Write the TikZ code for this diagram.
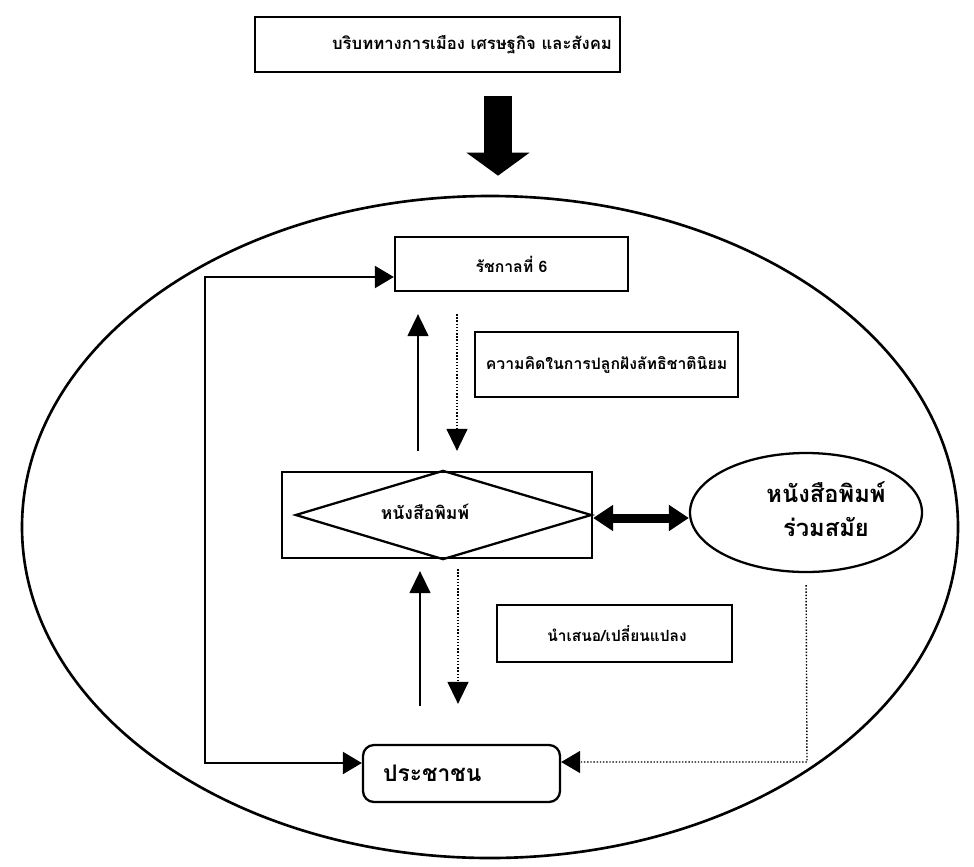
\documentclass[tikz,border=0pt]{standalone}
\usepackage{fontspec}
\newfontfamily\thaifont[Script=Thai]{Loma}
\usetikzlibrary{arrows.meta,calc,shapes.geometric}
\begin{document}
\begin{tikzpicture}[x=0.02cm,y=-0.02cm,
  font=\thaifont\bfseries,
  boxn/.style={draw,line width=1.3pt,rectangle,inner sep=0pt},
  headA/.style={-{Triangle[length=0.44cm,width=0.42cm]}},
  thinline/.style={line width=0.8pt},
  dotline/.style={line width=0.8pt,densely dotted},
]
\useasboundingbox (0,0) rectangle (974,866);
% outer ellipse
\node[draw,ellipse,line width=1.5pt,minimum width=936*0.02cm,minimum height=662*0.02cm,inner sep=0pt] (outer) at (490,527) {};
% top context box
\node[boxn,minimum width=365*0.02cm,minimum height=55*0.02cm,text width=349*0.02cm,align=right,font=\thaifont\bfseries\fontsize{9.5}{11}\selectfont] (ctx) at (437.5,44.5) {บริบททางการเมือง เศรษฐกิจ และสังคม};
% King Rama VI
\node[boxn,minimum width=233*0.02cm,minimum height=54*0.02cm,font=\thaifont\bfseries\fontsize{9}{11}\selectfont] (r6) at (511.5,264) {รัชกาลที่ 6};
% idea box
\node[boxn,minimum width=263*0.02cm,minimum height=65*0.02cm,font=\thaifont\bfseries\fontsize{9}{11}\selectfont] (idea) at (606.5,364.5) {ความคิดในการปลูกฝังลัทธิชาตินิยม};
% newspaper box with diamond
\node[boxn,minimum width=310*0.02cm,minimum height=86*0.02cm] (np) at (437,515) {};
\draw[line width=1.3pt] ($(np.west)+(15,0)$) -- ($(np.north)+(6,0)$) -- ($(np.east)+(-2,0)$) -- ($(np.south)+(6,0)$) -- cycle;
\node[font=\thaifont\bfseries\fontsize{10}{12}\selectfont] (nptext) at (425,512) {หนังสือพิมพ์};
% contemporary newspapers ellipse
\node[draw,ellipse,line width=1.3pt,minimum width=232*0.02cm,minimum height=119*0.02cm,inner sep=0pt] (contemp) at (806,512.5) {};
\node[align=center,font=\thaifont\bfseries\fontsize{13.5}{19}\selectfont] (contemptext) at (826,509) {หนังสือพิมพ์\\ร่วมสมัย};
% presentation box
\node[boxn,minimum width=235*0.02cm,minimum height=57*0.02cm,font=\thaifont\bfseries\fontsize{8.8}{10}\selectfont] (pres) at (614.5,633.5) {\hspace*{0.1cm}นำเสนอ/เปลี่ยนแปลง};
% people
\node[boxn,rounded corners=0.22cm,minimum width=197*0.02cm,minimum height=57*0.02cm,text width=157*0.02cm,align=left,font=\thaifont\bfseries\fontsize{13}{15}\selectfont] (people) at (461.5,773.5) {ประชาชน};
% big arrow
\coordinate (ax) at (498,0);
\draw[line width=28*0.02cm,-{Triangle[length=0.46cm,width=1.24cm]},shorten <=23*0.02cm,shorten >=19*0.02cm] (ax |- ctx.south) -- (ax |- outer.north);
% arrows between r6 and np
\coordinate (u1) at (418,0);
\coordinate (d1) at (457,0);
\draw[thinline,headA,shorten <=20*0.02cm,shorten >=22*0.02cm] (u1 |- np.north) -- (u1 |- r6.south);
\draw[dotline,headA,shorten <=22*0.02cm,shorten >=20*0.02cm] (d1 |- r6.south) -- (d1 |- np.north);
% arrows between np and people
\coordinate (u2) at (420,0);
\coordinate (d2) at (458,0);
\draw[thinline,headA,shorten <=38*0.02cm,shorten >=12*0.02cm] (u2 |- people.north) -- (u2 |- np.south);
\draw[dotline,headA,shorten <=10*0.02cm,shorten >=40*0.02cm] (d2 |- np.south) -- (d2 |- people.north);
% left feedback loop
\coordinate (lt) at (205,277);
\coordinate (lb) at (205,763);
\draw[line width=1.2pt,{Triangle[length=0.38cm,width=0.44cm]}-{Triangle[length=0.38cm,width=0.44cm]}] (r6.west |- lt) -- (lt) -- (lb) -- (people.west |- lb);
% right dotted line
\coordinate (rb) at (807,762);
\draw[dotline,-{Triangle[length=0.38cm,width=0.44cm]},shorten <=12*0.02cm] (contemp.south) -- (rb) -- (people.east |- rb);
% double thick arrow
\draw[line width=9*0.02cm,{Triangle[length=0.4cm,width=0.5cm]}-{Triangle[length=0.4cm,width=0.5cm]}] (np.east |- 0,518) -- (contemp.west |- 0,518);
\end{tikzpicture}
\end{document}
